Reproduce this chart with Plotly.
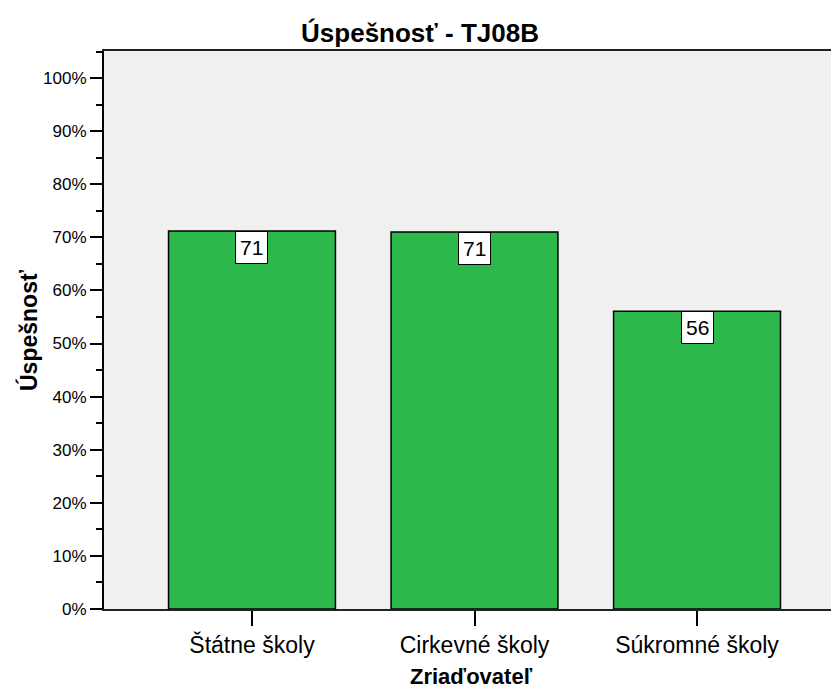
import plotly.graph_objects as go

categories = ["Štátne školy", "Cirkevné školy", "Súkromné školy"]
values = [71.2, 71.0, 56.1]
labels = ["71", "71", "56"]
y_ticks = [0, 10, 20, 30, 40, 50, 60, 70, 80, 90, 100]
y_ticktext = [f"{v}%" for v in y_ticks]

FONT = "Liberation Sans, Arial, sans-serif"

# page body has an 8px default margin, so the figure is sized to fit 839x690
W, H = 831, 682
L, T, B = 96, 43, 81

fig = go.Figure()
fig.add_trace(go.Bar(
    x=[0, 1, 2], y=values, width=0.75,
    marker=dict(color="#2DB84B", line=dict(color="black", width=1.5)),
    hoverinfo="skip",
))

for i, (v, t) in enumerate(zip(values, labels)):
    fig.add_annotation(x=i, y=v, text=t, showarrow=False, yanchor="top",
                       xanchor="center", bgcolor="white", bordercolor="black",
                       borderwidth=1, borderpad=4,
                       font=dict(family=FONT, size=21, color="black"))

plot_w = W - L
plot_h = H - T - B
fig.add_annotation(xref="paper", yref="paper", x=(20 - L) / plot_w, y=0.5,
                   text="<b>Úspešnosť</b>", textangle=-90, showarrow=False,
                   xanchor="center", yanchor="middle",
                   font=dict(family=FONT, size=23, color="black"))
fig.add_annotation(xref="paper", yref="paper", x=0.5, y=-(668 - (H - B)) / plot_h,
                   text="<b>Zriaďovateľ</b>", showarrow=False,
                   xanchor="center", yanchor="middle",
                   font=dict(family=FONT, size=22, color="black"))

fig.update_layout(
    width=W, height=H,
    margin=dict(l=L, r=0, t=T, b=B),
    paper_bgcolor="white", plot_bgcolor="#F0F0F0",
    showlegend=False,
    title=dict(text="<b>Úspešnosť - TJ08B</b>", x=412 / W, xref="container",
               y=1 - 25 / H, yref="container", xanchor="center", yanchor="middle",
               font=dict(family=FONT, size=26, color="black")),
    font=dict(family=FONT, color="black"),
)
fig.update_xaxes(
    range=[-0.665, 2.638], tickvals=[0, 1, 2], ticktext=categories,
    ticks="outside", ticklen=15, tickwidth=2, tickcolor="black",
    showline=True, linecolor="#222222", linewidth=1.5, mirror=True,
    showgrid=False, zeroline=False,
    tickfont=dict(family=FONT, size=23, color="black"),
)
fig.update_yaxes(
    range=[0, 105.1], tickvals=y_ticks, ticktext=y_ticktext,
    ticks="outside", ticklen=12, tickwidth=2, tickcolor="black",
    minor=dict(dtick=5, tick0=0, ticks="outside", ticklen=6, tickwidth=2, tickcolor="black", showgrid=False),
    showline=True, linecolor="black", linewidth=2,
    showgrid=False, zeroline=False,
    tickfont=dict(family=FONT, size=17, color="black"),
)

fig.write_html("out.html")
